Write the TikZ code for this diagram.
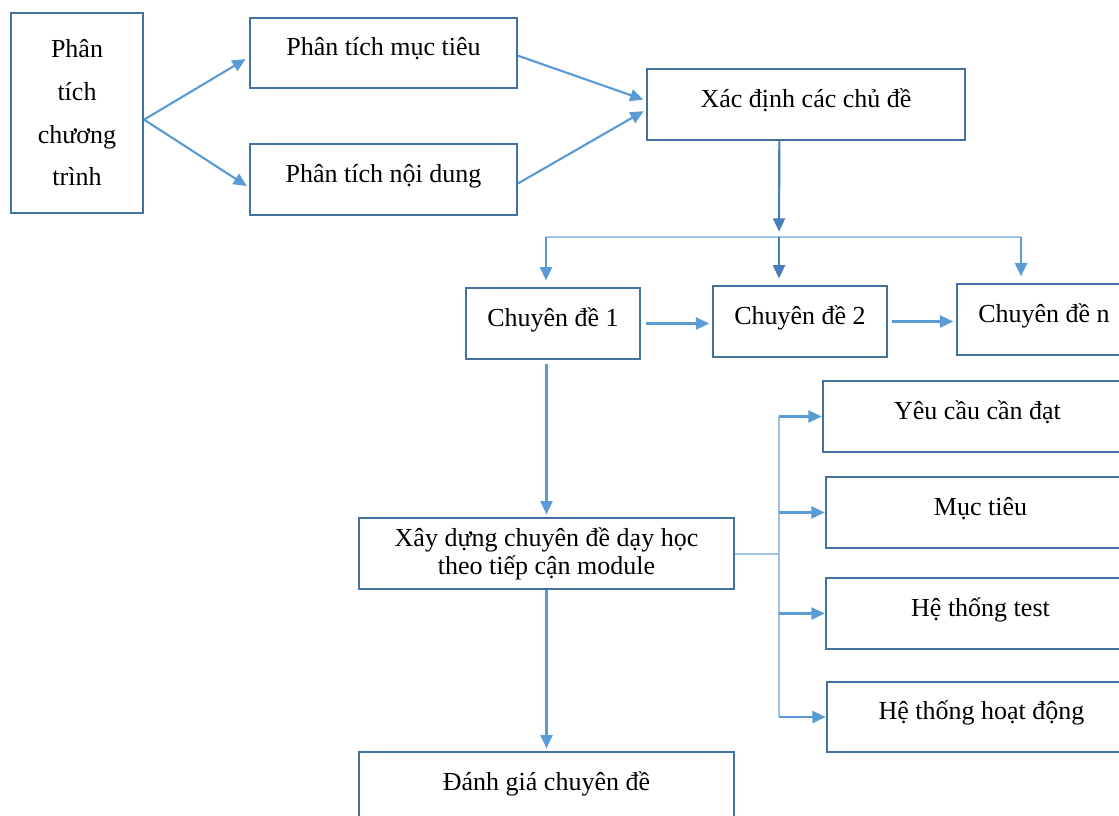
\documentclass[tikz,border=0pt]{standalone}
\usepackage{fontspec}
\setmainfont{Liberation Serif}
\usetikzlibrary{arrows.meta}
\usetikzlibrary{positioning}

\definecolor{boxline}{HTML}{41719C}
\definecolor{arrowline}{HTML}{5B9BD5}
\definecolor{darkline}{HTML}{4A7EBB}
\definecolor{busline}{HTML}{9DC3E6}

\begin{document}
\begin{tikzpicture}[x = 0.75pt, y = -0.75pt]
\tikzset{
   >={Triangle[length = 10pt, width = 9pt]},
   frame/.style = {rectangle, draw = boxline, line width = 1.6pt, minimum height = 53pt, align = center,
                   font = \fontsize{19.5}{21}\selectfont},
   box/.style = {frame, text height = 10pt, text depth = 6pt},
   side_box/.style = {box, minimum width = 200pt},
   topic/.style = {box, minimum width = 130.5pt},
   part/.style = {box, minimum width = 232pt},
   link/.style = {->, draw = arrowline, fill = arrowline, line width = 1.6pt},
   dark_link/.style = {link, draw = darkline, fill = darkline},
   bus/.style = {draw = busline, line width = 1.5pt}
}
  \useasboundingbox (0,0) rectangle (1119,816);
  \clip (0,0) rectangle (1119,816);

  \node[frame] (program) at (77,113) [minimum width = 99pt, minimum height = 150pt,
        font = \fontsize{19.5}{32}\selectfont] {Phân\\tích\\chương\\trình};
  \node[side_box] (goal) at (383.5,53) {Phân tích mục tiêu};
  \node[side_box] (content) at (383.5,179.5) {Phân tích nội dung};
  \node[box] (topics) at (806,104.5) [minimum width = 238.5pt] {Xác định các chủ đề};

  \node[topic] (topic_first) at (553,323.5) {Chuyên đề 1};
  \node[topic] (topic_second) at (800,321.5) {Chuyên đề 2};
  \node[topic] (topic_last) at (1044,319.5) {Chuyên đề n};

  \node[frame] (build) at (546.5,553.5) [minimum width = 281pt] {Xây dựng chuyên đề dạy học\\theo tiếp cận module};
  \node[box] (assess) at (546.5,787.5) [minimum width = 281pt] {Đánh giá chuyên đề};

  \node[part] (req) at (977.5,416.5) {Yêu cầu cần đạt};
  \node[part] (aim) at (980.5,512.5) {Mục tiêu};
  \node[part] (tests) at (980.5,613.5) {Hệ thống test};
  \node[part] (acts) at (981.5,717) {Hệ thống hoạt động};

  \coordinate (split) at (779,237);
  \coordinate (bus_left) at (546,237);
  \coordinate (bus_right) at (1021,237);
  \coordinate (fork) at (779,550);

  % analysis
  \draw[link, shorten > = 3pt] ([yshift = -5pt]program.east) -- ([yshift = -3pt]goal.west);
  \draw[link, shorten > = 2pt] ([yshift = -5pt]program.east) -- ([yshift = -6pt]content.west);
  \draw[link, shorten > = 2pt] ([yshift = -2pt]goal.east) -- ([yshift = 3pt]topics.west);
  \draw[link, shorten > = 2pt] ([yshift = -3pt]content.east) -- ([yshift = -4pt]topics.west);

  % topics
  \draw[dark_link, shorten > = 4pt] ([xshift = -20pt]topics.south) -- (split);
  \draw[bus] (bus_left) -- (bus_right);
  \draw[link, shorten > = 5pt] (bus_left) -- (bus_left |- topic_first.north);
  \draw[dark_link, shorten > = 5pt] (split) -- (split |- topic_second.north);
  \draw[link, shorten > = 5pt] (bus_right) -- (bus_right |- topic_last.north);
  \draw[link, shorten < = 4pt, shorten > = 2pt] (topic_first.east) -- (topic_first.east -| topic_second.west);
  \draw[link, shorten < = 3pt, shorten > = 2pt] (topic_second.east) -- (topic_second.east -| topic_last.west);

  % module
  \draw[link, shorten < = 3pt, shorten > = 2pt] (build.north |- topic_first.south) -- (build.north);
  \draw[link, shorten > = 2pt] (build.south) -- (assess.north);
  \draw[bus] (build.east) -- (build.east -| fork);
  \draw[bus] (fork |- req.west) -- (fork |- acts.west);
  \draw[link] (fork |- req.west) -- (req.west);
  \draw[link] (fork |- aim.west) -- (aim.west);
  \draw[link] (fork |- tests.west) -- (tests.west);
  \draw[link] (fork |- acts.west) -- (acts.west);

\end{tikzpicture}
\end{document}
